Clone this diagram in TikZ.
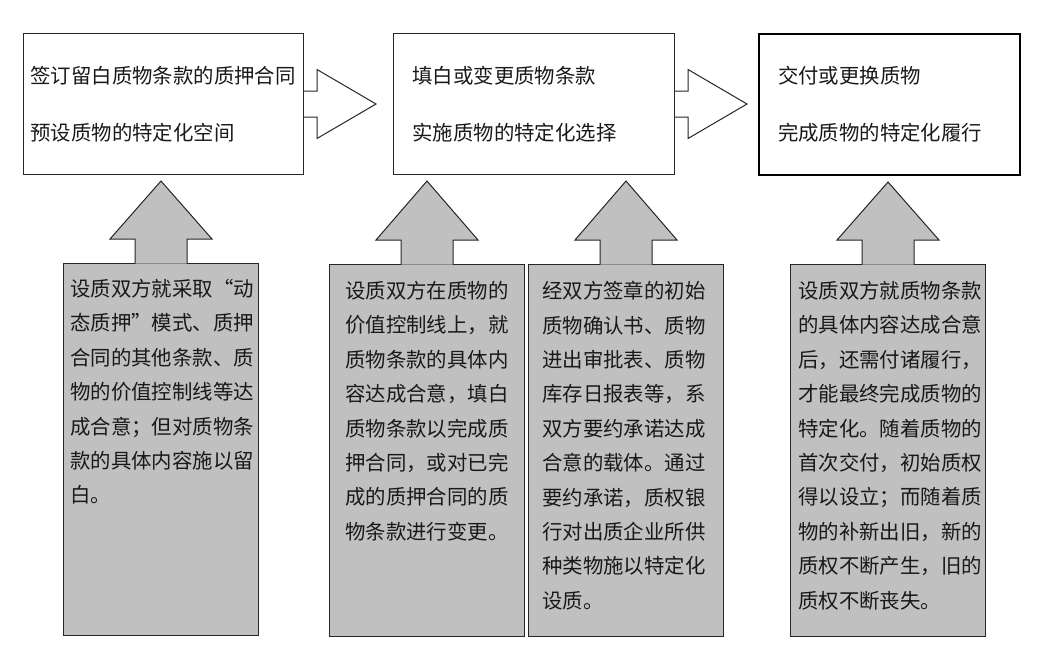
\documentclass[tikz,border=0pt]{standalone}
\usepackage{fontspec}
\setmainfont{Noto Sans CJK SC}
\usepackage{tikz}
\usetikzlibrary{positioning,calc}
\definecolor{memogray}{RGB}{192,192,192}
\definecolor{edge}{RGB}{38,38,38}

\begin{document}
\begin{tikzpicture}[
  x=1pt, y=-1pt,
  stage/.style={rectangle, draw=edge, line width=1pt, fill=white, anchor=north west,
                align=left, minimum height=141pt, inner ysep=0pt, text=black!90,
                font=\fontsize{20.4}{57}\selectfont},
  memo/.style={rectangle, draw=edge, line width=1pt, fill=memogray, anchor=north west,
               minimum width=195pt, minimum height=372pt, inner sep=0pt},
  memotext/.style={anchor=north west, align=left, inner sep=0pt, text width=190pt,
                   text=black!90, font=\fontsize{20.4}{34.4}\selectfont},
  rarrow/.style={draw=edge, line width=1pt, fill=white, line join=miter},
  uparrow/.style={draw=edge, line width=1pt, fill=memogray, line join=miter},
]
\useasboundingbox (0,0) rectangle (1051,654);

% --- stages along the top ---
\node[stage, text width=266pt, inner xsep=7pt] (s1) at (23,33)
  {签订留白质物条款的质押合同\\预设质物的特定化空间};
\node[stage, text width=243pt, inner xsep=19pt] (s2) at (393,33)
  {填白或变更质物条款\\实施质物的特定化选择};
\node[stage, text width=223pt, inner xsep=19pt, draw=black, line width=2pt] (s3) at (758,33)
  {交付或更换质物\\完成质物的特定化履行};

% --- arrows between stages ---
\foreach \a/\b in {s1/s2, s2/s3}{
  \filldraw[rarrow] ($(\a.east)+(0,-13)$) -- ++(13,0) -- ++(0,-21.5)
    -- ($(\a.east)+(72,0)$) -- ($(\a.east)+(13,34.5)$) -- ++(0,-21.5)
    -- ($(\a.east)+(0,13)$);
}

% --- notes below ---
\node[memo] (b1) at (63,263) {};
\node[memo] (b2) at (329,264) {};
\node[memo] (b3) at (528,264) {};
\node[memo] (b4) at (790,264) {};

\node[memotext] (t1) at (70,279) {设质双方就采取“动\\态质押”模式、质押\\合同的其他条款、质\\物的价值控制线等达\\成合意；但对质物条\\款的具体内容施以留\\白。};
\node[memotext] (t2) at (345,281) {设质双方在质物的\\价值控制线上，就\\质物条款的具体内\\容达成合意，填白\\质物条款以完成质\\押合同，或对已完\\成的质押合同的质\\物条款进行变更。};
\node[memotext] (t3) at (542,281) {经双方签章的初始\\质物确认书、质物\\进出审批表、质物\\库存日报表等，系\\双方要约承诺达成\\合意的载体。通过\\要约承诺，质权银\\行对出质企业所供\\种类物施以特定化\\设质。};
\node[memotext] (t4) at (798,281) {设质双方就质物条款\\的具体内容达成合意\\后，还需付诸履行，\\才能最终完成质物的\\特定化。随着质物的\\首次交付，初始质权\\得以设立；而随着质\\物的补新出旧，新的\\质权不断产生，旧的\\质权不断丧失。};

% --- arrows from notes up to stages ---
\foreach \n/\s in {b1/s1, b2/s2, b3/s2, b4/s3}{
  \filldraw[uparrow] ($(\n.north)+(-26,0.6)$) -- ++(0,-24.6) -- ++(-25,0)
    -- ($(\n.north |- \s.south)+(0,6)$) -- ($(\n.north)+(51,-24)$) -- ++(-25,0)
    -- ($(\n.north)+(26,0.6)$);
}

\end{tikzpicture}
\end{document}
